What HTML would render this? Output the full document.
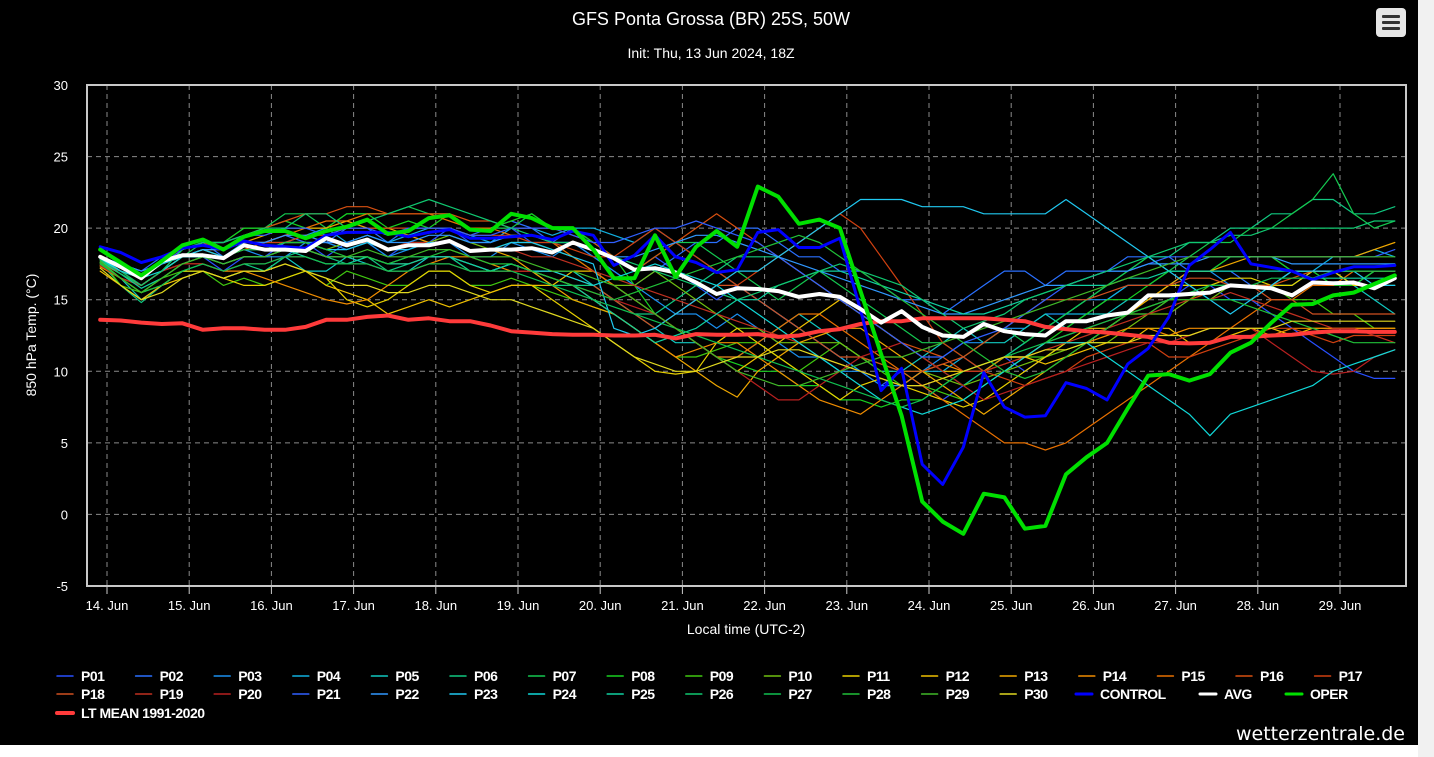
<!DOCTYPE html>
<html><head><meta charset="utf-8"><title>GFS Ponta Grossa</title>
<style>
html,body{margin:0;padding:0;background:#fff;width:1434px;height:757px;overflow:hidden;font-family:"Liberation Sans",sans-serif;}
#wrap{position:absolute;left:0;top:0;width:1418px;height:745px;background:#000;}
#strip{position:absolute;left:1418px;top:0;width:16px;height:757px;background:#f1f1f1;}
#menu{position:absolute;left:1376px;top:8px;width:30px;height:29px;background:#e6e6e6;border-radius:4px;}
#menu span{position:absolute;left:6px;width:18px;height:3px;background:#333;border-radius:1px;}
svg{position:absolute;left:0;top:0;}
</style></head><body>
<div id="wrap"></div>
<div id="strip"></div>
<svg id="chart" width="1434" height="757"></svg>
<div id="menu"><span style="top:7px"></span><span style="top:13px"></span><span style="top:19px"></span></div>
<script>
const dayLabels=["14. Jun","15. Jun","16. Jun","17. Jun","18. Jun","19. Jun","20. Jun","21. Jun","22. Jun","23. Jun","24. Jun","25. Jun","26. Jun","27. Jun","28. Jun","29. Jun"];
const yTicks=[-5,0,5,10,15,20,25,30];
const startHour=-2, stepHours=6;
const oper=[18.5,17.6,16.7,17.7,18.8,19.2,18.5,19.4,19.8,19.8,19.3,19.8,20.1,20.6,19.6,19.8,20.7,20.9,19.9,19.8,21,20.7,20,20,18.5,16.5,16.5,19.5,16.6,18.7,19.8,18.7,22.9,22.2,20.3,20.6,20,15.6,11.2,6.9,0.9,-0.5,-1.35,1.45,1.2,-1.0,-0.8,2.8,4.0,5.0,7.4,9.7,9.8,9.35,9.8,11.3,12.0,13.4,14.65,14.7,15.3,15.5,16.1,16.7];
const control=[18.7,18.3,17.6,18,18.6,18.8,18.5,19.1,18.8,18.7,18.6,19.5,19.7,19.7,19.7,19.4,19.7,19.9,19.3,19.3,19.4,19.5,19.2,19.8,19.5,17.4,18.1,19.5,18,17.6,16.9,17.1,19.7,19.9,18.65,18.65,19.3,14.3,8.65,10.2,3.5,2.1,4.7,9.9,7.5,6.8,6.9,9.2,8.8,8.0,10.5,11.6,13.8,17.4,18.5,19.7,17.5,17.25,17.0,16.4,16.9,17.3,17.3,17.4];
const avg=[18.0,17.3,16.5,17.7,18.1,18.1,17.9,18.8,18.5,18.5,18.4,19.3,18.8,19.2,18.5,18.8,18.8,19.1,18.4,18.5,18.5,18.6,18.3,19,18.5,17.9,17.1,17.2,16.9,16.2,15.4,15.8,15.75,15.6,15.2,15.4,15.2,14.35,13.4,14.2,13.1,12.5,12.4,13.3,12.8,12.6,12.5,13.5,13.5,13.9,14.1,15.3,15.3,15.4,15.5,16.0,15.9,15.8,15.3,16.2,16.15,16.2,15.8,16.5];
const ltMean=[13.6,13.55,13.4,13.3,13.35,12.9,13,13,12.9,12.9,13.1,13.6,13.6,13.8,13.9,13.6,13.7,13.5,13.5,13.2,12.8,12.7,12.6,12.55,12.55,12.5,12.5,12.55,12.3,12.6,12.55,12.55,12.6,12.4,12.5,12.8,12.95,13.3,13.5,13.5,13.7,13.7,13.7,13.7,13.6,13.5,13.1,12.95,12.8,12.7,12.55,12.4,12.0,11.95,12.0,12.4,12.4,12.5,12.55,12.7,12.8,12.8,12.75,12.75];
const P01=[18,17,16,17,18,18,17,18,18,19,19,18,19,19,18,19,19,20,19,19,20,19,19,20,19,18,17,18,17,16,15,16,15,14,13,12,11,10,9,10,9,8,9,10,11,10,11,12,12,13,14,14,15,16,16,15,15,14,13,12,11,10,9.5,9.5];
const P02=[18,17.5,17,18,18.5,19,18,19,19,19.5,19,19,20,20,19,20,20,20,19.5,20,20.5,20,19,19,18,17,16,17,18,19,19,20,20,19,18,18,17,17,16,15,15,14,15,16,17,17,16,17,17,17,18,18,18,17,17,17,16,16,17,17,17,16,17,17];
const P03=[17.5,17,16,17,18,18,18,18.5,18,18,19,19,18.5,19,18,18.5,19,19,18,18,19,18.5,18,19,18,17,16,15,14,14,13,14,13,12,11,11,10,10,9,9,10,11,12,12,13,13,14,14,15,15,16,16,16,17,17,16,16,16,17,17,16,16,17,17];
const P04=[17.8,17,16.5,17.5,18,18.5,18,19,19,19,19.5,20,19,19.5,19,19.5,20,20,19.5,19,20,20,19.5,20,20,19.5,19,20,19,18,17,16,15,14,13,12,11,10,9.5,9,10,10,11,10,11,12,13,14,14,15,16,16,17,17,17,18,18,18,17,17,18,18,18.5,18];
const P05=[17.5,16.5,15,16,17,17,16.5,17,17,18,17,17,18,17.5,17,17,18,18,17,17,17.5,17,17,17,16,15,14,13,12,12,11,11,12,13,14,13,12,11,10,10,11,12,13,12,12,13,14,13,14,14,15,15,16,16,15,15,15,16,16,17,17,16,15,14];
const P06=[17.6,16,14.8,16,17,17.5,17,17.5,17,18,18.5,18,17.5,18,17,17.5,18,18,17,17,17.5,17,16,16,16,15,14,14,15,16,17,18,18,18,17,16,15,14,13,12,11,10,9,10,11,12,13,14,15,16,17,18,18,19,19,20,20,21,21,22,22,21,21,21.5];
const P07=[18,17,16,17,18,19,19,20,20,21,21,20,21,21,21,21.5,21,21,20,20,20,21,20,20,19,18,17,18,19,19,18,17,16,15,16,17,16,15,14,13,12,12,11,12,13,12,13,14,15,16,17,18,17,18,19,19,20,20,21,22,23.8,21,20,20.5];
const P08=[17.5,16.5,16,17,18.5,19,19,20,20,20.5,20,20,21,21,20,20.5,20,21,20,20,20.5,21,20,20,19,18,16,14,13,12,11,10.5,10,10,9,9,8,8,7.5,8,8,9,10,10,11,11,12,13,14,15,15,16,17,17,17,18,18,18,17,17,16,16,17,17];
const P09=[17.8,16,15.5,16.5,17,17,16,16.5,16,16.5,17,16,17,16.5,16,16,17,17,16,16,16.5,16,15.5,15,14.5,14,13,12,11,11,11.5,12,12,11,10,11,12,11,10,9,9,8.5,8,9,10,11,11,12,12,13,14,14,15,15,16,16,16,16,15,15,14,14,13,13];
const P10=[17.6,16.8,16,17,18,18.5,18,18.5,18.5,19,19,18.5,19,19,18.5,19,19,19.5,19,18.5,19,19,18.5,18,17,16,16,17,16,15,14,13,13,12,12,12,12,11,10.5,10,10,9.5,9,9.5,10,10.5,11,11.5,12,12,13,14,14,15,15,16,16,16,17,17,17,16,16,16];
const P11=[17.4,16.5,15.5,16,17,17,16.5,16,16,16.5,17,16.5,15,14.5,15,16,17,17,16,15.5,16,16,15,14,13,12,11,10,9.8,10,12,13,12,11,10,9,8,9,9.5,9,8.5,8,7.5,8,9,10,11,12,13,13,14,15,16,16,16,16.5,16.5,16,16,17,17,16,16,16.5];
const P12=[17,16,15,16,16.5,17,16.5,17,17,17.5,17,16,15.5,15,14,14.5,15,14.5,15,15.5,16,16,16,17,17,16,15,14,13,12,11,10,11,12,13,14,15,14,13,12,11,10,10,10.5,11,11,10.5,11,11.5,12,12,13,13,12,12,12.5,13,13,12.5,13,13,13,13,13];
const P13=[17.8,17,16.5,17.5,18,18.5,18.5,19,19.5,20,20,20,20.5,20,20,19.5,19,19,18.5,18.5,18,17,16,15,14.5,14,13,12,11,10,9,8.2,10,11,12,12.5,13,13,12,11,10,9,8,7,8,9,10,11,12,13,14,15,16,17,17,17.5,18,18,18,18,18,18,18.5,19];
const P14=[17.3,16.5,16,17,17.5,17.5,17,17,16.5,16,15.5,15,14.7,15,16,17,17.5,18,18,17.5,17,17,16.5,16,15,14,13,12,11,11.5,12,12,11,10,9,8,7.5,7,8,9,10,10.5,10,10,11,11,12,12,12,12.5,13,13,12.5,13,13,13,13,12.5,13,13,13,13,13,13];
const P15=[17.5,16.5,16,17,18,18.5,18,18.5,19,19.5,20,20.5,20.5,21,21,21,21,20.5,20,20,19.5,19.5,19,18,17,16,15,14,13,12,11,11,12,13,14,14,13,12,11,10,9,8,7,6,5,5,4.5,5,6,7,8,9,10,11,12,13,14,15,15,16,16,17,17,17];
const P16=[17.5,17,16.5,17.5,18.5,19,19,19.5,20,20.5,21,21,21.5,21.5,21,21,21,21,20.5,20.5,20,20,20,19.5,19,18,17,18,19,20,21,20,19,18,17,16,15,14,13,12,11.5,11,10,10,10.5,11,12,12.5,13,13.5,14,14.5,15,15,15.5,16,16,16,16.5,17,17,17,17,17];
const P17=[17.7,17,16.5,17.5,18,18.5,18.5,19,19,19,19.5,19.5,20,20,20,20,20,20,19.5,19.5,19.5,19,19,18.5,18,18,19,20,19,18,17,16,17,18,19,20,21,20,18,16,14,12,11,10,9.5,9,9.5,10,11,11.5,12,12,11,11,11.5,12,12.5,13,13,12.5,12,12.5,12.5,12.5];
const P18=[17.6,16.8,16,17,17.5,18,17.5,18,18,18.5,18.5,18,18,18,17.5,17.5,18,18,17.5,17,17,17,17,16.5,16,15,14,13,14,15,16,16,15,14,13,12,11,11,10.5,10,10,10.5,11,12,13,14,15,15,15,15.5,16,16,16,16.5,16.5,16,16,15,15,14,14,14,14,14];
const P19=[17.8,17,16.5,17.5,18.5,19,18.5,19,19,19.5,19.5,19,19,19,18.5,19,19,19,18.5,18.5,18.5,18,18,17.5,17,16.5,16,15.5,15,14.5,14,13.5,13,12.5,12,11,10.5,10,9.5,9,9,9.5,10,10,10.5,11,11.5,12,12.5,13,13.5,14,14.5,15,15,15.5,15,14.5,14,13.5,13,13,12.5,12];
const P20=[17.4,16.5,16,17,17.5,17.5,17,17.5,17.5,18,18,17.5,17.5,17.5,17,17,17.5,17.5,17,17,17,17,16.5,16,15.5,15,14.5,14,13,12,11,10,9,8,8,9,10,11,11.5,12,11,10,9,8,8.5,9,9.5,10,10.5,11,11.5,12,12,12.5,13,13,13,12,11,10,9.8,10,11,11.5];
const P21=[18,17.5,17,17.5,18.5,19,19,19.5,19.5,20,20,19.5,20,20,19.5,20,20,20,19.5,19.5,20,20,20,19.5,19,19,19.5,20,20,20.5,20,19.5,19,18,17,16,15,14,13,12,11,11,12,12.5,13,14,15,16,16.5,17,17,17.5,18,18,18,18,18,18,18,18,18,18,18,18.5];
const P22=[18,17.5,17,17.5,18,18.5,18.5,19,19,19.5,19.5,19,19,19.5,19,19,19.5,19.5,19,19,19.5,19.5,19,19,18.5,18,18,18.5,19,19.5,19.5,19,18.5,18,17.5,17,16.5,16,15.5,15,14.5,14,14,14.5,15,15.5,16,16,16.5,17,17,17.5,17.5,17.5,18,18,18,18,17.5,17.5,17.5,17.5,17.5,17.5];
const P23=[17.9,17,16.5,17.5,18,18.5,18,18.5,18.5,19,19,18.5,18.5,19,18.5,18.5,19,19,18.5,18.5,19,19,18.5,18,17.5,13,12.5,13,14,15,16,17,17,18,19,20,21,22,22,22,21.5,21.5,21.5,21,21,21,21,22,21,20,19,18,17,16,15,14,15,16,17,17,17,17,16,16];
const P24=[17.8,17,16.5,17,18,18,17.5,18,18,18.5,18.5,18,18,18,17.5,18,18,18,17.5,17,17.5,17,17,16.5,16,16.5,17,17.5,17,16.5,16,15,14,13,12,11,10,9,8,7.5,7,7.5,8,9,10,11,12,12,12,11,10,9,8,7,5.5,7,7.5,8,8.5,9,10,10.5,11,11.5];
const P25=[17.7,16.8,15.8,16.5,17.5,18,17.5,18,18,18.5,18,17.5,17.5,18,17.5,17.5,18,18,17.5,17,17.5,17,16.5,16,15,14,13,12,12.5,13,14,15,15,16,16.5,17,17,16.5,16,15.5,15,14.5,14,14,14.5,15,15.5,16,16,16,16.5,16.5,17,17,17,17,17,17,17,16.5,16.5,16.5,16.5,16.5];
const P26=[17.8,16.8,16,17,18.5,19,19,19.5,20,20,21,21,20,20.5,21,21.5,22,21.5,21,20.5,20,19.5,19,19,18.5,18,17.5,17,16.5,16,15.5,15,15.5,16,16.5,17,17.5,17,16.5,16,15,14,13,13.5,14,15,15.5,16,16.5,17,17.5,18,18.5,19,19,19.5,19.5,20,20,20,20,20,20.5,20.5];
const P27=[17.5,16.5,15.5,16,17,17.5,17,17.5,17.5,18,18,17.5,17.5,17.5,17,17,17.5,17.5,17,17,17,16.5,16,15.5,15,14.5,14,13.5,13,12.5,12,11.5,11,10.5,10,9.5,9,8.5,8,7.5,8,9,10,10.5,11,11.5,12,12.5,13,13.5,14,14.5,15,15.5,16,16,16,16.5,16.5,16.5,17,17,17,17];
const P28=[17.6,16.5,15.5,16.5,17.5,18,18,18.5,18.5,19,19,18.5,18,18,17.5,18,18,18.5,18,17.5,17.5,17,16.5,16,15.5,15,15.5,16,16.5,17,17.5,18,18.5,19,19.5,19,18,17,16,15,14,13,12,11,10,9.5,10,11,12,13,14,14.5,15,15,15,15,14.5,14,13.5,13,12.5,12,12,12];
const P29=[17.7,16.5,15.5,16.5,17.5,18,17.5,18,18,18.5,18.5,18,18,18.5,18,18,18.5,18.5,18,18,18,17.5,17,17,16.5,16,15,14,13,12,11,10,9.5,9,9,9.5,10,10.5,11,11,11.5,12,12.5,13,13.5,14,14.5,15,15.5,16,16.5,17,17.5,18,18,18,18,18,18,18,18,18,18,18];
const P30=[17.2,16,15,15.5,16.5,17,16.5,17,17,17.5,17,16.5,16,16,15.5,15.5,16,16,15.5,15,15,14.5,14,13.5,13,12,11,10.5,10,10,10.5,11,11,11.5,11.5,11,10.5,10,9.5,9,9,9.5,10,10.5,11,11,11.5,11.5,12,12,12,12.5,12.5,12.5,13,13,13,13,13.5,13.5,13.5,13.5,13.5,13.5];
const members=[P01,P02,P03,P04,P05,P06,P07,P08,P09,P10,P11,P12,P13,P14,P15,P16,P17,P18,P19,P20,P21,P22,P23,P24,P25,P26,P27,P28,P29,P30];
const memberNames=["P01","P02","P03","P04","P05","P06","P07","P08","P09","P10","P11","P12","P13","P14","P15","P16","P17","P18","P19","P20","P21","P22","P23","P24","P25","P26","P27","P28","P29","P30"];
const memberColors=["#2850ff","#2a70ff","#1a90f0","#10b0e0","#10c8c0","#10c880","#14c850","#18d020","#40c810","#70c010","#e8d000","#f0c000","#f0a800","#f08c00","#e87000","#d85010","#d04010","#d05020","#c03020","#b82020","#3060ff","#3098ff","#20c8f0","#10d8d8","#10d0a0","#10c870","#10c050","#20c038","#40b828","#e0d820"];

const svg=document.getElementById('chart');
const NS='http://www.w3.org/2000/svg';
const L=87,R=1406,T=85,B=586;
function yAt(v){return B-(v-(-5))*(B-T)/35;}
function xAtHour(h){return 107+h*82.2/24;}
function xAtIdx(i){return xAtHour(startHour+i*stepHours);}
function mk(tag,attrs,parent){const e=document.createElementNS(NS,tag);for(const k in attrs)e.setAttribute(k,attrs[k]);(parent||svg).appendChild(e);return e;}
function txt(s,attrs,parent){const e=mk('text',attrs,parent);e.textContent=s;return e;}

let t=txt("GFS Ponta Grossa (BR) 25S, 50W",{x:711,y:25,'text-anchor':'middle',fill:'#fff','font-size':18,'font-family':'Liberation Sans, sans-serif'});

t=txt("Init: Thu, 13 Jun 2024, 18Z",{x:711,y:58,'text-anchor':'middle',fill:'#fff','font-size':14,'font-family':'Liberation Sans, sans-serif'});


const grid=mk('g',{});

yTicks.forEach(v=>{
  const y=yAt(v);
  if(v>-5&&v<30){const g=mk('line',{x1:L,x2:R,y1:y,y2:y,stroke:'#8a8a8a','stroke-width':1,'stroke-dasharray':'5,4'},grid);}
  const lb=txt(String(v),{x:68,y:y+5,'text-anchor':'end',fill:'#fff','font-size':13,'font-family':'Liberation Sans, sans-serif'});
  
});
dayLabels.forEach((d,k)=>{
  const x=xAtHour(k*24);
  const g=mk('line',{x1:x,x2:x,y1:T,y2:B,stroke:'#8a8a8a','stroke-width':1,'stroke-dasharray':'5,4'},grid);
  
  const tk=mk('line',{x1:x,x2:x,y1:B,y2:B+8,stroke:'#ccc','stroke-width':1});
  
  const lb=txt(d,{x:x,y:610,'text-anchor':'middle',fill:'#fff','font-size':13,'font-family':'Liberation Sans, sans-serif'});
  
});
t=txt("Local time (UTC-2)",{x:746,y:634,'text-anchor':'middle',fill:'#fff','font-size':14,'font-family':'Liberation Sans, sans-serif'});

t=txt("850 hPa Temp. (°C)",{x:0,y:0,'text-anchor':'middle',fill:'#fff','font-size':14,'font-family':'Liberation Sans, sans-serif',transform:'translate(36,335) rotate(-90)'});


const defs=mk('defs',{});
const cp=mk('clipPath',{id:'pc'},defs);mk('rect',{x:L,y:T,width:R-L,height:B-T},cp);
const plot=mk('g',{'clip-path':'url(#pc)'});

function series(vals,color,w,name){
  const pts=vals.map((v,i)=>xAtIdx(i).toFixed(1)+','+yAt(v).toFixed(1)).join(' ');
  const p=mk('polyline',{points:pts,fill:'none',stroke:color,'stroke-width':w,'stroke-linejoin':'round','stroke-linecap':'round'},plot);
  
  
}
members.forEach((m,k)=>series(m,memberColors[k],1.2,'series-'+memberNames[k].toLowerCase()));
series(ltMean,'#ff3b3b',4,'series-lt-mean');
series(control,'#0000ff',3,'series-control');
series(avg,'#ffffff',4,'series-avg');
series(oper,'#00e000',4,'series-oper');
const frame=mk('rect',{x:L,y:T,width:R-L,height:B-T,fill:'none',stroke:'#c8c8c8','stroke-width':2});


const leg=mk('g',{});

function legendItem(label,color,x,y,w){
  const g=mk('g',{},leg);
  
  
  mk('line',{x1:x,x2:x+16,y1:y-5,y2:y-5,stroke:color,'stroke-width':w,'stroke-linecap':'round'},g);
  txt(label,{x:x+24,y:y,fill:'#fff','font-size':14,'font-weight':'bold','font-family':'Liberation Sans, sans-serif','letter-spacing':'-0.5'},g);
}
for(let k=0;k<17;k++)legendItem(memberNames[k],memberColors[k],57+k*78.6,681,1.5);
for(let k=17;k<30;k++)legendItem(memberNames[k],memberColors[k],57+(k-17)*78.6,699,1.5);
legendItem("CONTROL","#0000ff",1076,699,3);
legendItem("AVG","#ffffff",1200,699,3);
legendItem("OPER","#00e000",1286,699,3);
legendItem("LT MEAN 1991-2020","#ff3b3b",57,718,4);
t=txt("wetterzentrale.de",{x:1405,y:740,'text-anchor':'end',fill:'#fff','font-size':19,'font-family':'DejaVu Sans, sans-serif'});

</script>
</body></html>
